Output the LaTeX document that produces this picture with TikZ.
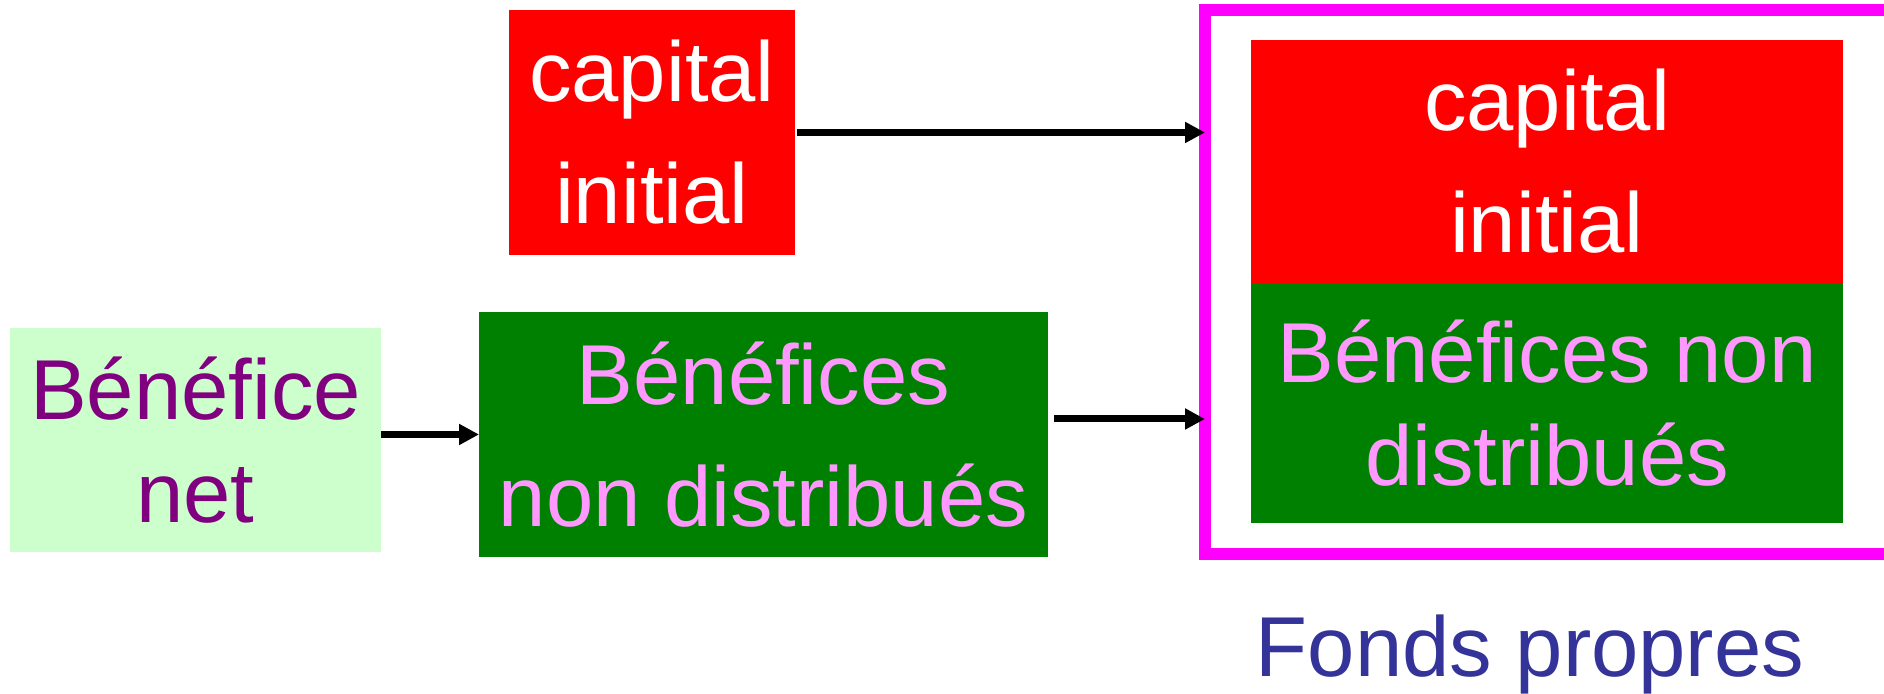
\documentclass[tikz,border=0pt]{standalone}
\usepackage{fontspec}
\setmainfont{Liberation Sans}
\usepackage{xcolor}
\usepackage{tikz}
\usetikzlibrary{positioning,arrows.meta}

\definecolor{rouge}{RGB}{255,0,0}
\definecolor{vertfonce}{RGB}{0,128,0}
\definecolor{vertclair}{RGB}{204,255,204}
\definecolor{rose}{RGB}{255,153,255}
\definecolor{prune}{RGB}{128,0,128}
\definecolor{cadre}{RGB}{255,0,255}
\definecolor{bleufp}{RGB}{51,51,153}

\begin{document}
\begin{tikzpicture}[
    boite/.style={rectangle, inner sep=0pt, outer sep=0pt, align=center},
    grand/.style={font=\fontsize{24.2}{34.7}\selectfont},
    serre/.style={font=\fontsize{24.2}{29.2}\selectfont},
    fleche/.style={-{Triangle[length=0.2cm,width=0.2cm]}, line width=0.07cm}
]
    \useasboundingbox (0,0) rectangle (18.84,6.94);
    \clip (0,0) rectangle (18.84,6.94);

    \node[boite, grand, fill=rouge, text=white, minimum width=2.86cm, minimum height=2.45cm] (capital) at (6.52,5.615) {capital\\initial};
    \node[boite, serre, fill=vertclair, text=prune, minimum width=3.71cm, minimum height=2.24cm] (benet) at (1.955,2.54) {Bénéfice\\net};
    \node[boite, grand, fill=vertfonce, text=rose, minimum width=5.69cm, minimum height=2.45cm] (bnd) at (7.635,2.595) {Bénéfices\\non distribués};

    % fonds propres
    \node[boite, draw=cadre, line width=0.12cm, minimum width=7.6cm, minimum height=5.445cm] (fonds) at (15.85,4.1175) {};
    \node[boite, grand, fill=rouge, text=white, minimum width=5.92cm, minimum height=2.43cm] (capital2) at (15.47,5.325) {capital\\initial};
    \node[boite, serre, fill=vertfonce, text=rose, minimum width=5.92cm, minimum height=2.40cm, below=0cm of capital2] (bnd2) {Bénéfices non\\distribués};
    \node[text=bleufp, font=\fontsize{24.2}{29}\selectfont, anchor=base] (titre) at (15.30,0.17) {Fonds propres};

    \draw[fleche] ([xshift=0.02cm]capital.east) -- (capital.east -| fonds.west);
    \draw[fleche] ([xshift=0.06cm,yshift=0.155cm]bnd.east) coordinate (b) -- (b -| fonds.west);
    \draw[fleche] (benet.east |- bnd.west) -- (bnd.west);
\end{tikzpicture}
\end{document}
